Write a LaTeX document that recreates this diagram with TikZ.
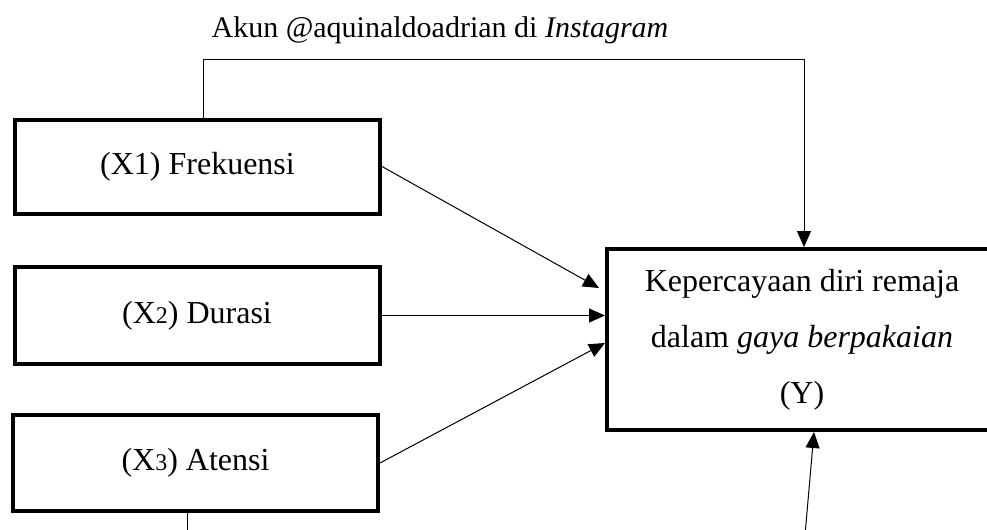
\documentclass[tikz,border=0pt]{standalone}
\usepackage{fontspec}
\setmainfont{Liberation Serif}
\usetikzlibrary{arrows.meta, positioning, calc}
\tikzset{
    varbox/.style={draw, line width=2pt, minimum width=182.5pt, minimum height=47pt, inner sep=0pt, font=\fontsize{16}{19}\selectfont},
    link/.style={line width=0.5pt},
    arr/.style={link, -{Triangle[length=8pt, width=7pt]}},
}
\newcommand{\smalldigit}[1]{{\fontsize{12}{12}\selectfont #1}}

\begin{document}
\begin{tikzpicture}[x=0.5pt, y=-0.5pt]
    \useasboundingbox (0,0) rectangle (987,530);

    \node[font=\fontsize{15}{18}\selectfont] (title) at (440,30) {Akun @aquinaldoadrian di \textit{Instagram}};
    \node[varbox] (x1) at (197.5,166.5) {(X1) Frekuensi};
    \node[varbox, minimum height=48.5pt] (x2) at (197,315.5) {(X\smalldigit{2}) Durasi};
    \node[varbox, minimum height=48pt] (x3) at (195.5,463) {(X\smalldigit{3}) Atensi};
    \node[draw, line width=2pt, minimum width=195pt, minimum height=90.5pt, inner sep=0pt, align=center, font=\fontsize{16}{28}\selectfont] (y) at (802,339.5)
        {Kepercayaan diri remaja\\dalam \textit{gaya berpakaian}\\(Y)};

    % open ends at the lower edge
    \coordinate (x3end) at (187,535);
    \coordinate (yfeed) at (805,535);

    \draw[arr] ($(x1.north)+(5.5,0)$) -- ++(0,-58) -| ($(y.north)+(2,0)$);
    \draw[arr] (x1.east) -- ($(y.west)+(-6,-51.5)$);
    \draw[arr] (x2.east) -- (y.west |- x2.east);
    \draw[arr] (x3.east) -- ($(y.west)+(0,3.5)$);
    \draw[link] ($(x3.south)+(-8.5,0)$) -- (x3end);
    \draw[arr] (yfeed) -- ($(y.south)+(12,0)$);
\end{tikzpicture}
\end{document}
